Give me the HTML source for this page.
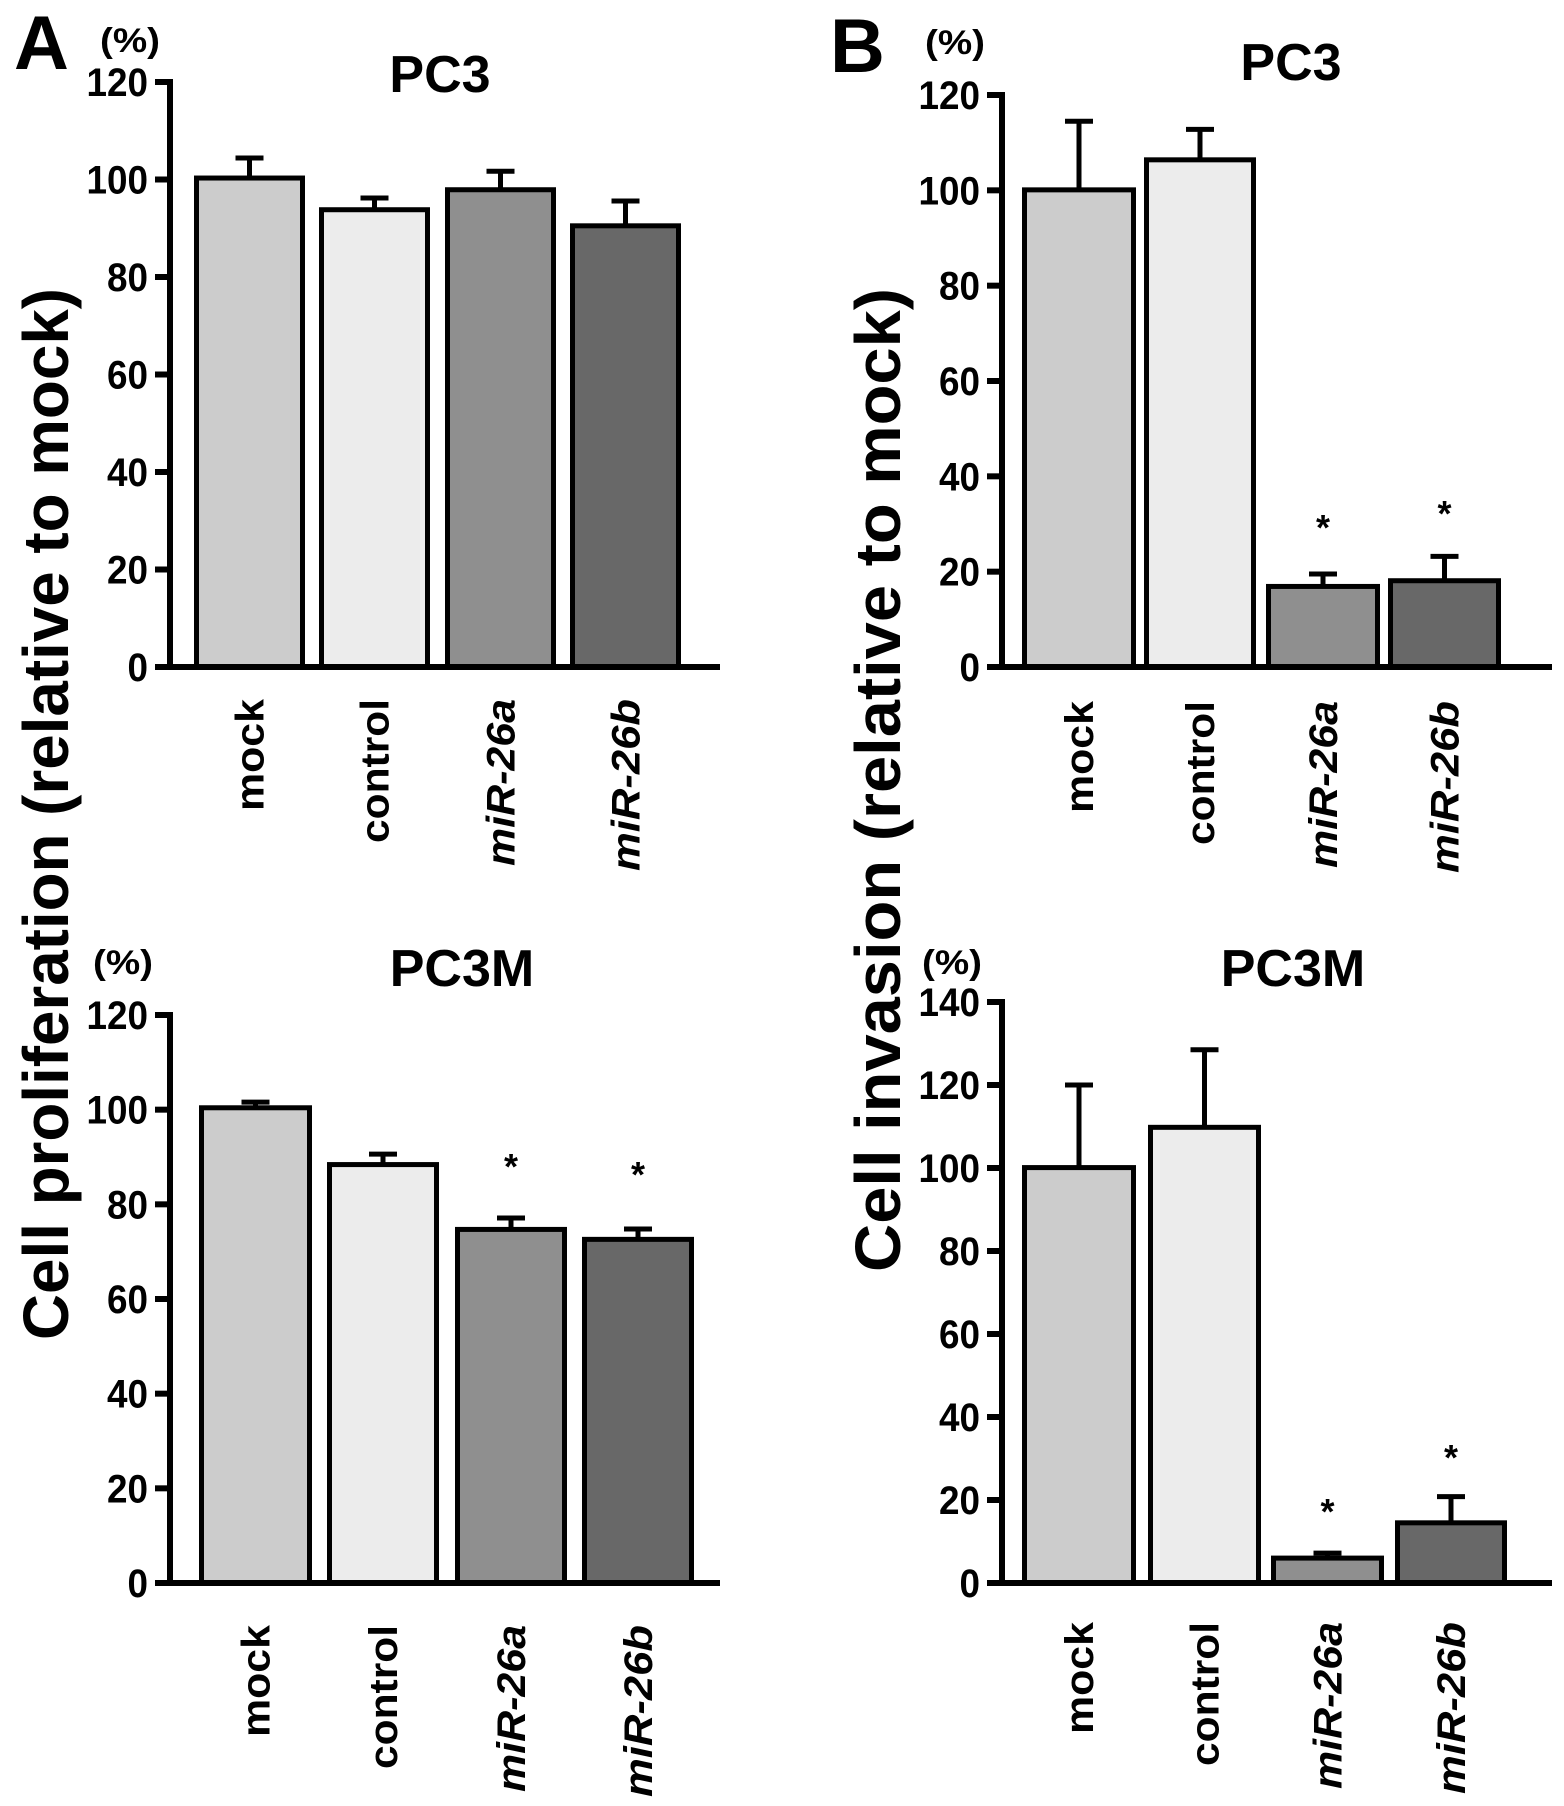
<!DOCTYPE html>
<html><head><meta charset="utf-8">
<style>
html,body{margin:0;padding:0;background:#fff;}
svg{display:block;font-family:"Liberation Sans",Arial,sans-serif;font-weight:bold;}
</style></head>
<body>
<svg id="fig" width="1564" height="1806" viewBox="0 0 1564 1806" xmlns="http://www.w3.org/2000/svg">
<text x="14" y="69" font-size="76">A</text>
<text x="830" y="72" font-size="76">B</text>
<text transform="translate(68,1340) rotate(-90)" font-size="64" textLength="1052" lengthAdjust="spacingAndGlyphs">Cell proliferation  (relative to mock)</text>
<text transform="translate(900,1272) rotate(-90)" font-size="64" textLength="984" lengthAdjust="spacingAndGlyphs">Cell invasion  (relative to mock)</text>
</svg>
<script>
const categories = ["mock","control","miR-26a","miR-26b"];
const italicCats = [false,false,true,true];
const fills = ["#cccccc","#ececec","#8f8f8f","#686868"];
const aTopValues = [100.3, 93.8, 97.9, 90.5];
const aTopErrors = [104.4, 96.2, 101.7, 95.6];
const aTopStars = [null, null, null, null];
const bTopValues = [100.1, 106.4, 16.9, 18.1];
const bTopErrors = [114.5, 112.8, 19.5, 23.2];
const bTopStars = [null, null, 29.6, 32.5];
const aBotValues = [100.4, 88.4, 74.7, 72.6];
const aBotErrors = [101.6, 90.6, 77.1, 74.8];
const aBotStars = [null, null, 88.3, 86.6];
const bBotValues = [100.1, 109.8, 6.0, 14.5];
const bBotErrors = [120.0, 128.5, 7.2, 20.8];
const bBotStars = [null, null, 17.6, 30.6];
const ticks120 = [0,20,40,60,80,100,120];
const ticks140 = [0,20,40,60,80,100,120,140];

const NS="http://www.w3.org/2000/svg";
const svg=document.getElementById('fig');
function mk(tag,attrs,parent){const e=document.createElementNS(NS,tag);for(const k in attrs)e.setAttribute(k,attrs[k]);(parent||svg).appendChild(e);return e;}

function panel(cfg){
  const g=mk('g',{});
  
  
  const ymax=cfg.ticks[cfg.ticks.length-1];
  const yS=v=>cfg.y0-(cfg.y0-cfg.yTop)*v/ymax;
  const t=mk('text',{x:cfg.titleX,y:cfg.titleY,'font-size':52,'text-anchor':'middle'},g);
  t.textContent=cfg.title;
  
  
  const p=mk('text',{x:cfg.pctX,y:cfg.pctY,'font-size':34,textLength:60,lengthAdjust:'spacingAndGlyphs'},g);
  p.textContent='(%)';
  
  
  for(let i=0;i<categories.length;i++){
    const l=cfg.barX[i][0], r=cfg.barX[i][1], cx=(l+r)/2;
    const top=yS(cfg.values[i]), et=yS(cfg.errors[i]);
    const eb=mk('line',{x1:cx,x2:cx,y1:top,y2:et,stroke:'#000','stroke-width':5},g);
    
    
    const ec=mk('line',{x1:cx-14,x2:cx+14,y1:et,y2:et,stroke:'#000','stroke-width':5},g);
    
    
    const b=mk('rect',{x:l+2.5,y:top,width:r-l-5,height:cfg.y0-top,fill:fills[i],stroke:'#000','stroke-width':5},g);
    
    
    if(cfg.stars[i]!=null){
      const s=mk('text',{x:cx,y:yS(cfg.stars[i])+14,'font-size':36,'text-anchor':'middle'},g);
      s.textContent='*';
      
      
    }
    const len=[112,144,167,172][i];
    const lb=mk('text',{transform:`translate(${cx+14},${cfg.labelTop}) rotate(-90)`,'font-size':40,'text-anchor':'end','font-style':italicCats[i]?'italic':'normal',textLength:len,lengthAdjust:'spacingAndGlyphs'},g);
    lb.textContent=categories[i];
    
    
  }
  const ya=mk('line',{x1:cfg.ax,x2:cfg.ax,y1:cfg.yTop-3,y2:cfg.y0+3,stroke:'#000','stroke-width':6},g);
  
  
  const xa=mk('line',{x1:cfg.ax-15,x2:cfg.xEnd,y1:cfg.y0,y2:cfg.y0,stroke:'#000','stroke-width':6},g);
  
  
  for(const v of cfg.ticks){
    const y=yS(v);
    const tk=mk('line',{x1:cfg.ax-15,x2:cfg.ax,y1:y,y2:y,stroke:'#000','stroke-width':6},g);
    
    
    const s=String(v);
    const tl=mk('text',{x:cfg.ax-22,y:y+14,'font-size':40,'text-anchor':'end',textLength:s.length*20.5,lengthAdjust:'spacingAndGlyphs'},g);
    tl.textContent=s;
    
    
  }
}

panel({name:'chart-a-pc3',title:'PC3',titleX:440,titleY:92,pctX:100,pctY:52,ax:170,yTop:82,y0:667,xEnd:720,
  ticks:ticks120,values:aTopValues,errors:aTopErrors,stars:aTopStars,labelTop:699,
  barX:[[194,305],[319,430],[445,556],[570,681]]});
panel({name:'chart-b-pc3',title:'PC3',titleX:1291,titleY:80,pctX:925,pctY:54,ax:1002,yTop:95,y0:667,xEnd:1552,
  ticks:ticks120,values:bTopValues,errors:bTopErrors,stars:bTopStars,labelTop:701,
  barX:[[1022,1136],[1144,1256],[1266,1380],[1388,1501]]});
panel({name:'chart-a-pc3m',title:'PC3M',titleX:462,titleY:986,pctX:93,pctY:974,ax:170,yTop:1015,y0:1583,xEnd:720,
  ticks:ticks120,values:aBotValues,errors:aBotErrors,stars:aBotStars,labelTop:1625,
  barX:[[199,312],[327,439],[455,567],[582,694]]});
panel({name:'chart-b-pc3m',title:'PC3M',titleX:1293,titleY:986,pctX:922,pctY:974,ax:1002,yTop:1002,y0:1583,xEnd:1552,
  ticks:ticks140,values:bBotValues,errors:bBotErrors,stars:bBotStars,labelTop:1622,
  barX:[[1022,1136],[1148,1261],[1271,1384],[1395,1507]]});
</script>
</body></html>
